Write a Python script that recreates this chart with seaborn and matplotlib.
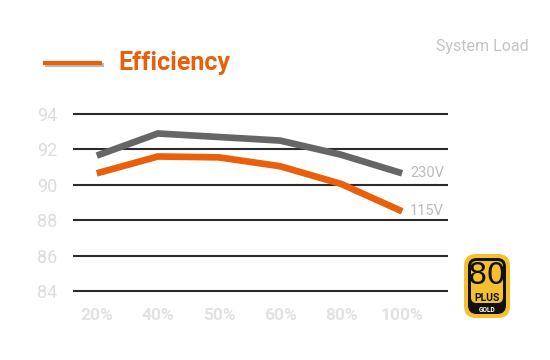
import matplotlib
matplotlib.use("Agg")
import matplotlib.pyplot as plt
import seaborn as sns
import pandas as pd
from matplotlib.lines import Line2D
from matplotlib.patches import FancyBboxPatch

# load levels and efficiency values (%)
LOADS = ['20%', '40%', '50%', '60%', '80%', '100%']
EFF_230V = [91.65, 92.9, 92.7, 92.5, 91.7, 90.65]
EFF_115V = [90.65, 91.6, 91.55, 91.05, 90.05, 88.5]
Y_TICKS = [84, 86, 88, 90, 92, 94]

ORANGE = '#ea5f0a'
GREY = '#666666'

sns.set_style('white')
plt.rcParams['font.family'] = ['Roboto', 'DejaVu Sans']

df = pd.DataFrame({
    'load': LOADS * 2,
    'eff': EFF_230V + EFF_115V,
    'volt': ['230V'] * len(LOADS) + ['115V'] * len(LOADS),
})

fig = plt.figure(figsize=(5.5, 3.6), dpi=100)
ax = fig.add_axes([0.1327, 0.1917, 0.6818, 0.4916])

for y in Y_TICKS:
    ax.axhline(y, color='#2b2b2b', lw=1.5, zorder=1, clip_on=False)

sns.lineplot(data=df, x='load', y='eff', hue='volt', sort=False,
             palette={'230V': GREY, '115V': ORANGE}, lw=4.8,
             legend=False, ax=ax, zorder=3)
for line in ax.lines:
    line.set_solid_capstyle('butt')
    line.set_solid_joinstyle('miter')

ax.set_xlim(-0.39, 5.75)
ax.set_ylim(84, 94)
ax.set_yticks(Y_TICKS)
ax.set_yticklabels([str(v) for v in Y_TICKS], fontsize=13, color='#dddddd')
ax.tick_params(axis='y', length=0, pad=11)
ax.tick_params(axis='x', length=0, pad=12)
for lbl in ax.get_xticklabels():
    lbl.set_fontsize(12.5)
    lbl.set_fontweight('bold')
    lbl.set_color('#e2e2e2')
ax.set_xlabel('')
ax.set_ylabel('')
for s in ax.spines.values():
    s.set_visible(False)

ax.text(5.13, EFF_230V[-1], '230V', color='#bbbbbb', fontsize=10.5,
        va='center', ha='left')
ax.text(5.12, EFF_115V[-1], '115V', color='#bbbbbb', fontsize=10.5,
        va='center', ha='left')

# header
fig.add_artist(Line2D([45 / 550, 104 / 550], [1 - 65 / 360, 1 - 65 / 360],
                      color='#bbbbbb', lw=3, solid_capstyle='butt'))
fig.add_artist(Line2D([43 / 550, 102 / 550], [1 - 63 / 360, 1 - 63 / 360],
                      color=ORANGE, lw=3, solid_capstyle='butt'))
fig.text(118 / 550, 1 - 63 / 360, 'Efficiency', color=ORANGE, fontsize=18,
         fontweight='bold', va='center', ha='left')
fig.text(436 / 550, 1 - 47 / 360, 'System Load', color='#c4c4c4', fontsize=11.5,
         va='center', ha='left')

# 80 PLUS gold badge
bx, by, bw, bh = 464 / 550, 1 - 318 / 360, 46 / 550, 64 / 360
fig.add_artist(FancyBboxPatch((bx, by), bw, bh, boxstyle='round,pad=0,rounding_size=0.022',
                              fc='#f4c02f', ec='none', transform=fig.transFigure,
                              mutation_aspect=550 / 360))
fig.add_artist(FancyBboxPatch((bx + 4 / 550, by + 4 / 360), bw - 8 / 550, bh - 8 / 360,
                              boxstyle='round,pad=0,rounding_size=0.016',
                              fc='#111111', ec='none', transform=fig.transFigure,
                              mutation_aspect=550 / 360))
fig.add_artist(FancyBboxPatch((bx + 7 / 550, by + 15 / 360), bw - 14 / 550, bh - 22 / 360,
                              boxstyle='round,pad=0,rounding_size=0.01',
                              fc='#f4c02f', ec='none', transform=fig.transFigure,
                              mutation_aspect=550 / 360))
fig.text(bx + bw / 2, 1 - 276 / 360, '80', color='#111111', fontsize=22,
         ha='center', va='center', fontfamily='DejaVu Sans Condensed')
fig.text(bx + bw / 2, 1 - 298 / 360, 'PLUS', color='#111111', fontsize=7.5,
         fontweight='bold', ha='center', va='center')
fig.text(bx + bw / 2, 1 - 309.5 / 360, 'GOLD', color='white', fontsize=4.8,
         fontweight='bold', ha='center', va='center')

fig.savefig('out.png', dpi=100)
